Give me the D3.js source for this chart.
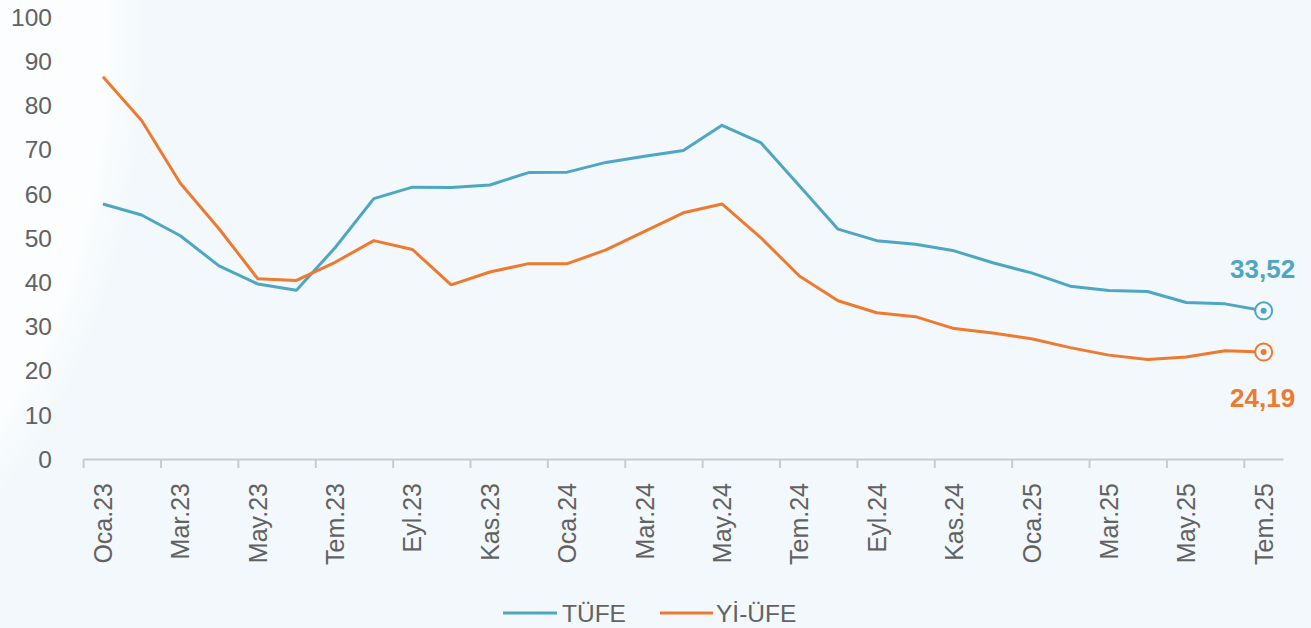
<!DOCTYPE html>
<html>
<head>
<meta charset="utf-8">
<script src="https://cdn.jsdelivr.net/npm/d3@7"></script>
<style>
  html, body { margin: 0; padding: 0; background: #f2f8fb; }
  svg { display: block; font-family: "Liberation Sans", Arial, sans-serif; }
</style>
</head>
<body>
<div id="chart"></div>
<script>
// Months (Oca.23 .. Tem.25)
const months = ['Oca.23','Şub.23','Mar.23','Nis.23','May.23','Haz.23','Tem.23','Ağu.23','Eyl.23','Eki.23','Kas.23','Ara.23',
  'Oca.24','Şub.24','Mar.24','Nis.24','May.24','Haz.24','Tem.24','Ağu.24','Eyl.24','Eki.24','Kas.24','Ara.24',
  'Oca.25','Şub.25','Mar.25','Nis.25','May.25','Haz.25','Tem.25'];

const tufe = [57.7, 55.2, 50.5, 43.7, 39.6, 38.2, 47.8, 58.9, 61.5, 61.4, 62.0, 64.8,
  64.9, 67.1, 68.5, 69.8, 75.5, 71.6, 61.8, 52.0, 49.4, 48.6, 47.1, 44.4,
  42.1, 39.1, 38.1, 37.9, 35.4, 35.1, 33.52];

const yiufe = [86.5, 76.6, 62.4, 52.1, 40.8, 40.4, 44.5, 49.4, 47.4, 39.4, 42.3, 44.2,
  44.2, 47.3, 51.5, 55.7, 57.7, 50.1, 41.4, 35.8, 33.1, 32.2, 29.5, 28.5,
  27.2, 25.2, 23.5, 22.5, 23.1, 24.5, 24.19];

const yTicks = [0, 10, 20, 30, 40, 50, 60, 70, 80, 90, 100];
const xTickLabels = months.filter((d, i) => i % 2 === 0);

const series = [
  { name: 'TÜFE', values: tufe, color: '#4fa6c2', label: '33,52', labelDy: -33 },
  { name: 'Yİ-ÜFE', values: yiufe, color: '#ee7a30', label: '24,19', labelDy: 55 }
];

const width = 1311, height = 628;
const bg = '#f2f8fb';
const textColor = '#626262';

const svg = d3.select('#chart').append('svg')
  .attr('width', width)
  .attr('height', height);

// soft white glow on the left
const defs = svg.append('defs');
const glow = defs.append('radialGradient')
  .attr('id', 'glow')
  .attr('cx', '50%').attr('cy', '50%').attr('r', '50%');
glow.append('stop').attr('offset', '0%').attr('stop-color', '#ffffff').attr('stop-opacity', 0.9);
glow.append('stop').attr('offset', '88%').attr('stop-color', '#ffffff').attr('stop-opacity', 0.7);
glow.append('stop').attr('offset', '100%').attr('stop-color', '#ffffff').attr('stop-opacity', 0);

svg.append('rect').attr('width', width).attr('height', height).attr('fill', bg);
svg.append('ellipse')
  .attr('cx', -220).attr('cy', 40)
  .attr('rx', 370).attr('ry', 580)
  .attr('fill', 'url(#glow)');

const x = d3.scaleBand()
  .domain(months)
  .range([83.6, 1283]);

const y = d3.scaleLinear()
  .domain([0, 100])
  .range([459, 17]);

const half = x.bandwidth() / 2;

// X axis
svg.append('g')
  .attr('transform', `translate(0,${y(0)})`)
  .call(d3.axisBottom(x).tickValues(xTickLabels).tickSize(9).tickSizeOuter(0))
  .call(g => g.select('.domain').attr('stroke', '#c9cccf').attr('stroke-width', 2))
  .call(g => g.selectAll('.tick line')
    .attr('x1', -half).attr('x2', -half)
    .attr('stroke', '#c9cccf').attr('stroke-width', 2))
  .call(g => g.selectAll('.tick text')
    .attr('transform', 'rotate(-90)')
    .attr('x', -24).attr('y', 0).attr('dy', '0.36em')
    .attr('text-anchor', 'end')
    .attr('fill', textColor)
    .attr('font-size', 25)
    .attr('font-family', '"Liberation Sans", Arial, sans-serif'));

// Y axis labels (no line)
svg.append('g')
  .selectAll('text')
  .data(yTicks)
  .join('text')
  .attr('x', 52)
  .attr('y', d => y(d))
  .attr('dy', '0.36em')
  .attr('text-anchor', 'end')
  .attr('fill', textColor)
  .attr('font-size', 24.5)
  .text(d => d);

// Lines
const line = d3.line()
  .x((d, i) => x(months[i]) + half)
  .y(d => y(d));

series.forEach(s => {
  svg.append('path')
    .datum(s.values)
    .attr('fill', 'none')
    .attr('stroke', s.color)
    .attr('stroke-width', 3)
    .attr('stroke-linejoin', 'round')
    .attr('d', line);

  const last = s.values.length - 1;
  const cx = x(months[last]) + half;
  const cy = y(s.values[last]);

  svg.append('circle')
    .attr('cx', cx).attr('cy', cy).attr('r', 8.5)
    .attr('fill', bg)
    .attr('stroke', s.color)
    .attr('stroke-width', 2);

  svg.append('circle')
    .attr('cx', cx).attr('cy', cy).attr('r', 3)
    .attr('fill', s.color);

  svg.append('text')
    .attr('x', cx - 1)
    .attr('y', cy + s.labelDy)
    .attr('text-anchor', 'middle')
    .attr('fill', s.color)
    .attr('font-size', 26)
    .attr('font-weight', 'bold')
    .text(s.label);
});

// Legend
const legendItems = [
  { s: series[0], x1: 503, x2: 557, tx: 562 },
  { s: series[1], x1: 660, x2: 713, tx: 716 }
];
const ly = 613;
legendItems.forEach(d => {
  svg.append('line')
    .attr('x1', d.x1).attr('x2', d.x2)
    .attr('y1', ly).attr('y2', ly)
    .attr('stroke', d.s.color)
    .attr('stroke-width', 3);
  svg.append('text')
    .attr('x', d.tx)
    .attr('y', ly)
    .attr('dy', '0.36em')
    .attr('fill', textColor)
    .attr('font-size', 24.5)
    .text(d.s.name);
});
</script>
</body>
</html>
